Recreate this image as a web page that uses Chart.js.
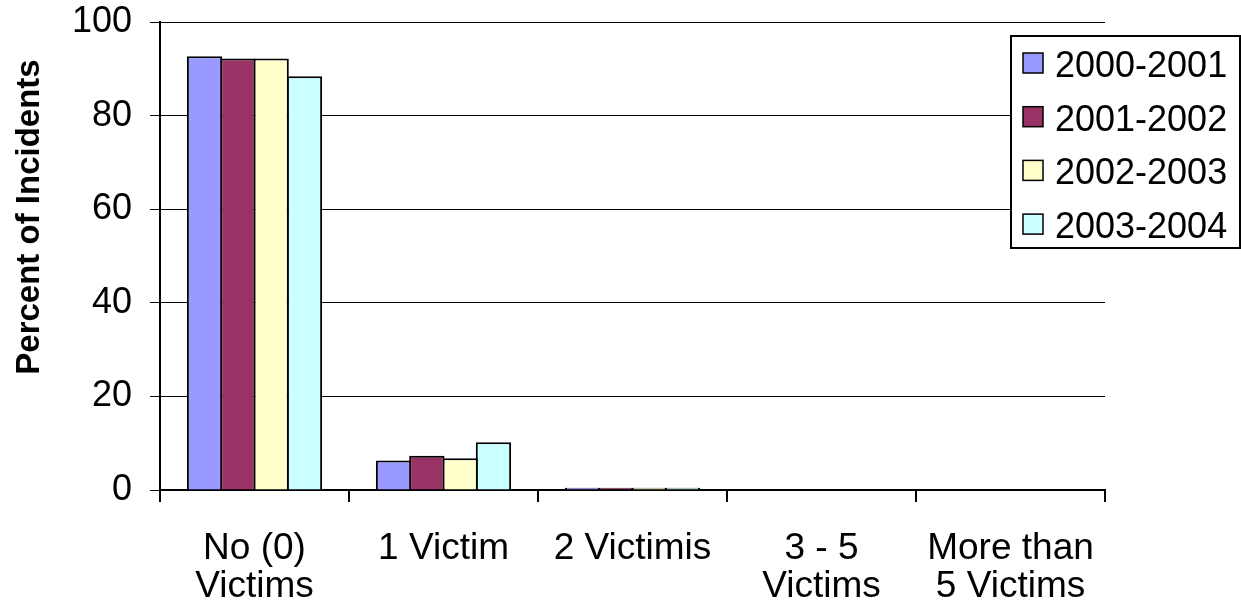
<!DOCTYPE html>
<html>
<head>
<meta charset="utf-8">
<script src="https://cdn.jsdelivr.net/npm/chart.js@4/dist/chart.umd.min.js"></script>
<style>
  html, body { margin: 0; padding: 0; background: #fff; }
  #wrap { width: 1241px; height: 613px; position: relative; }
</style>
</head>
<body>
<div id="wrap"><canvas id="victimsChart" width="1241" height="613"></canvas></div>
<script>
// categories and series
const categories = [['No (0)', 'Victims'], '1 Victim', '2 Victimis', ['3 - 5', 'Victims'], ['More than', '5 Victims']];
const seriesNames = ['2000-2001', '2001-2002', '2002-2003', '2003-2004'];
const values2000 = [92.7, 6.3, 0.5, 0, 0];
const values2001 = [92.2, 7.3, 0.5, 0, 0];
const values2002 = [92.2, 6.8, 0.5, 0, 0];
const values2003 = [88.4, 10.2, 0.5, 0, 0];
const seriesColors = ['#9999FF', '#993366', '#FFFFCC', '#CCFFFF'];
const yTicks = [0, 20, 40, 60, 80, 100];
const yTitle = 'Percent of Incidents';

const FONT = 'Arial, "Liberation Sans", sans-serif';

// boxed legend drawn on top of the plot, and the y title placed like the original
const extras = {
  id: 'extras',
  afterDraw(chart) {
    const ctx = chart.ctx;
    ctx.save();
    // y axis title
    ctx.translate(30, 217);
    ctx.rotate(-Math.PI / 2);
    ctx.font = 'bold 33px ' + FONT;
    ctx.fillStyle = '#000';
    ctx.textAlign = 'center';
    ctx.textBaseline = 'middle';
    ctx.fillText(yTitle, 0, 0);
    ctx.restore();

    ctx.save();
    const x0 = 1011, y0 = 36, w = 229, h = 212;
    ctx.fillStyle = '#fff';
    ctx.fillRect(x0, y0, w, h);
    ctx.strokeStyle = '#000';
    ctx.lineWidth = 2;
    ctx.strokeRect(x0, y0, w, h);
    ctx.font = '36px ' + FONT;
    ctx.textBaseline = 'alphabetic';
    ctx.textAlign = 'left';
    chart.data.datasets.forEach((ds, i) => {
      const cy = 63 + i * 53.7;
      ctx.fillStyle = ds.backgroundColor;
      ctx.fillRect(1023, cy - 10, 20, 20);
      ctx.lineWidth = 1.5;
      ctx.strokeRect(1023, cy - 10, 20, 20);
      ctx.fillStyle = '#000';
      ctx.fillText(ds.label, 1055, cy + 14);
    });
    ctx.restore();
  }
};

const allValues = [values2000, values2001, values2002, values2003];

new Chart(document.getElementById('victimsChart').getContext('2d'), {
  type: 'bar',
  data: {
    labels: categories,
    datasets: seriesNames.map((name, i) => ({
      label: name,
      data: allValues[i],
      backgroundColor: seriesColors[i],
      borderColor: '#000',
      borderWidth: 2,
      categoryPercentage: 0.705,
      barPercentage: 1.06
    }))
  },
  options: {
    responsive: false,
    animation: false,
    devicePixelRatio: 1,
    layout: { padding: { top: 22, right: 136, left: 0, bottom: 0 } },
    plugins: {
      legend: { display: false },
      tooltip: { enabled: false }
    },
    scales: {
      x: {
        afterFit: (scale) => { scale.height = 123; },
        grid: {
          offset: true,
          drawOnChartArea: false,
          drawTicks: true,
          tickLength: 12,
          color: '#000',
          lineWidth: 2
        },
        border: { color: '#000', width: 2 },
        ticks: {
          color: '#000',
          padding: 28,
          maxRotation: 0,
          autoSkip: false,
          font: { family: FONT, size: 37, lineHeight: 1.03 }
        }
      },
      y: {
        min: 0,
        max: 100,
        afterFit: (scale) => {
          scale.width = 160;
          scale.paddingTop = 0;
          scale.paddingBottom = 0;
        },
        afterBuildTicks: (scale) => { scale.ticks = yTicks.map(v => ({ value: v })); },
        grid: {
          color: '#000',
          lineWidth: 1,
          tickLength: 10,
          drawTicks: true
        },
        border: { color: '#000', width: 2 },
        ticks: {
          color: '#000',
          padding: 18,
          font: { family: FONT, size: 36 }
        }
      }
    }
  },
  plugins: [extras]
});
</script>
</body>
</html>
